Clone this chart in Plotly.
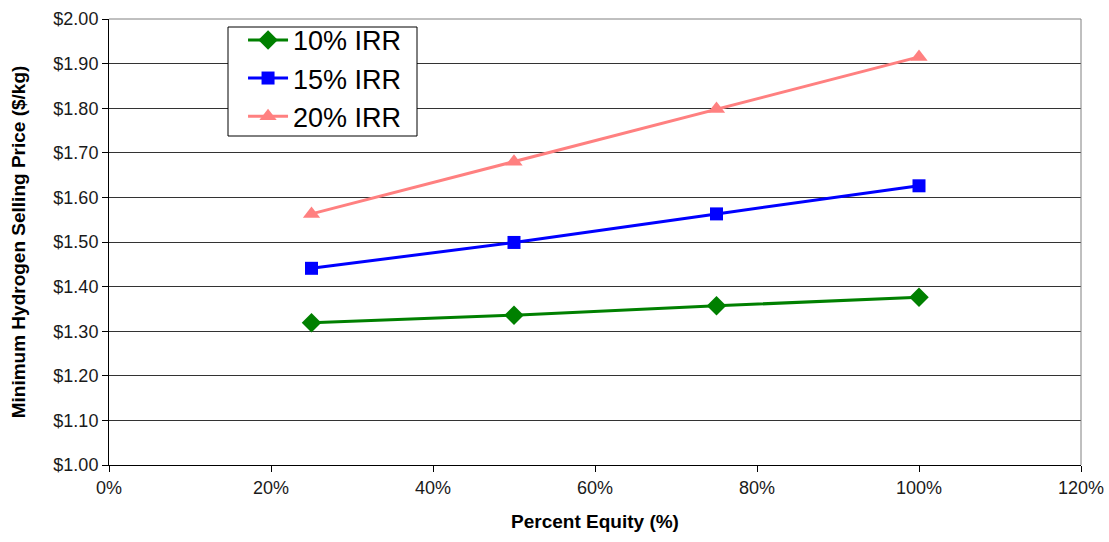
import plotly.graph_objects as go

# Percent equity (x) and minimum hydrogen selling price ($/kg) for each IRR case
equity_pct = [25, 50, 75, 100]
irr_10 = [1.319, 1.336, 1.357, 1.376]
irr_15 = [1.441, 1.499, 1.563, 1.626]
irr_20 = [1.563, 1.680, 1.798, 1.915]

x_ticks = [0, 20, 40, 60, 80, 100, 120]
x_tick_labels = ["0%", "20%", "40%", "60%", "80%", "100%", "120%"]
y_ticks = [1.0, 1.1, 1.2, 1.3, 1.4, 1.5, 1.6, 1.7, 1.8, 1.9, 2.0]

series = [
    ("10% IRR", irr_10, "#008000", "diamond", 15),
    ("15% IRR", irr_15, "#0000FF", "square", 13),
    ("20% IRR", irr_20, "#FF8080", "triangle-up", 15),
]

fig = go.Figure()
for name, vals, color, symbol, size in series:
    fig.add_trace(go.Scatter(
        x=equity_pct, y=vals, name=name, mode="lines+markers",
        line=dict(color=color, width=3),
        marker=dict(color=color, symbol=symbol, size=size, line=dict(width=0)),
    ))

font_family = "Liberation Sans, Arial, sans-serif"

fig.update_layout(
    width=1109, height=542,
    margin=dict(l=109, r=28, t=19, b=77),
    paper_bgcolor="white", plot_bgcolor="white",
    font=dict(family=font_family, size=18, color="#1a1a1a"),
    showlegend=True,
    legend=dict(
        x=0.1379, y=1.007, xanchor="left", yanchor="top",
        bgcolor="rgba(0,0,0,0)", borderwidth=0,
        font=dict(size=27, color="#000000"),
        itemwidth=40,
    ),
    xaxis=dict(
        range=[0, 120], tickmode="array", tickvals=x_ticks, ticktext=x_tick_labels,
        showgrid=False, zeroline=False, automargin=False,
        showline=True, linecolor="#000000", linewidth=1,
        ticks="outside", ticklen=6, tickcolor="#000000",
        title=dict(text="<b>Percent Equity (%)</b>",
                   font=dict(size=19, color="#000000"), standoff=18),
    ),
    yaxis=dict(
        range=[1.0, 2.0], tickmode="array", tickvals=y_ticks,
        tickformat="$.2f", showgrid=True, gridcolor="#333333", gridwidth=1,
        zeroline=False, showline=True, linecolor="#000000", linewidth=1,
        automargin=False,
        ticks="outside", ticklen=6, tickcolor="#000000",
        title=dict(text="<b>Minimum Hydrogen Selling Price ($/kg)</b>",
                   font=dict(size=19, color="#000000"), standoff=22),
    ),
)

# Gray frame on the top and right sides of the plotting area
fig.add_shape(type="line", xref="paper", yref="paper", x0=0, x1=1, y0=1, y1=1,
              line=dict(color="#808080", width=1))
fig.add_shape(type="line", xref="paper", yref="paper", x0=1, x1=1, y0=0, y1=1,
              line=dict(color="#808080", width=1))

# Legend frame (white box with a black border behind the legend entries)
fig.add_shape(type="rect", xref="paper", yref="paper",
              x0=(228 - 109) / 972, x1=(417 - 109) / 972,
              y0=1 - (136 - 19) / 446, y1=1 - (27 - 19) / 446,
              line=dict(color="#000000", width=1), fillcolor="white", layer="above")

fig.write_html("out.html")
